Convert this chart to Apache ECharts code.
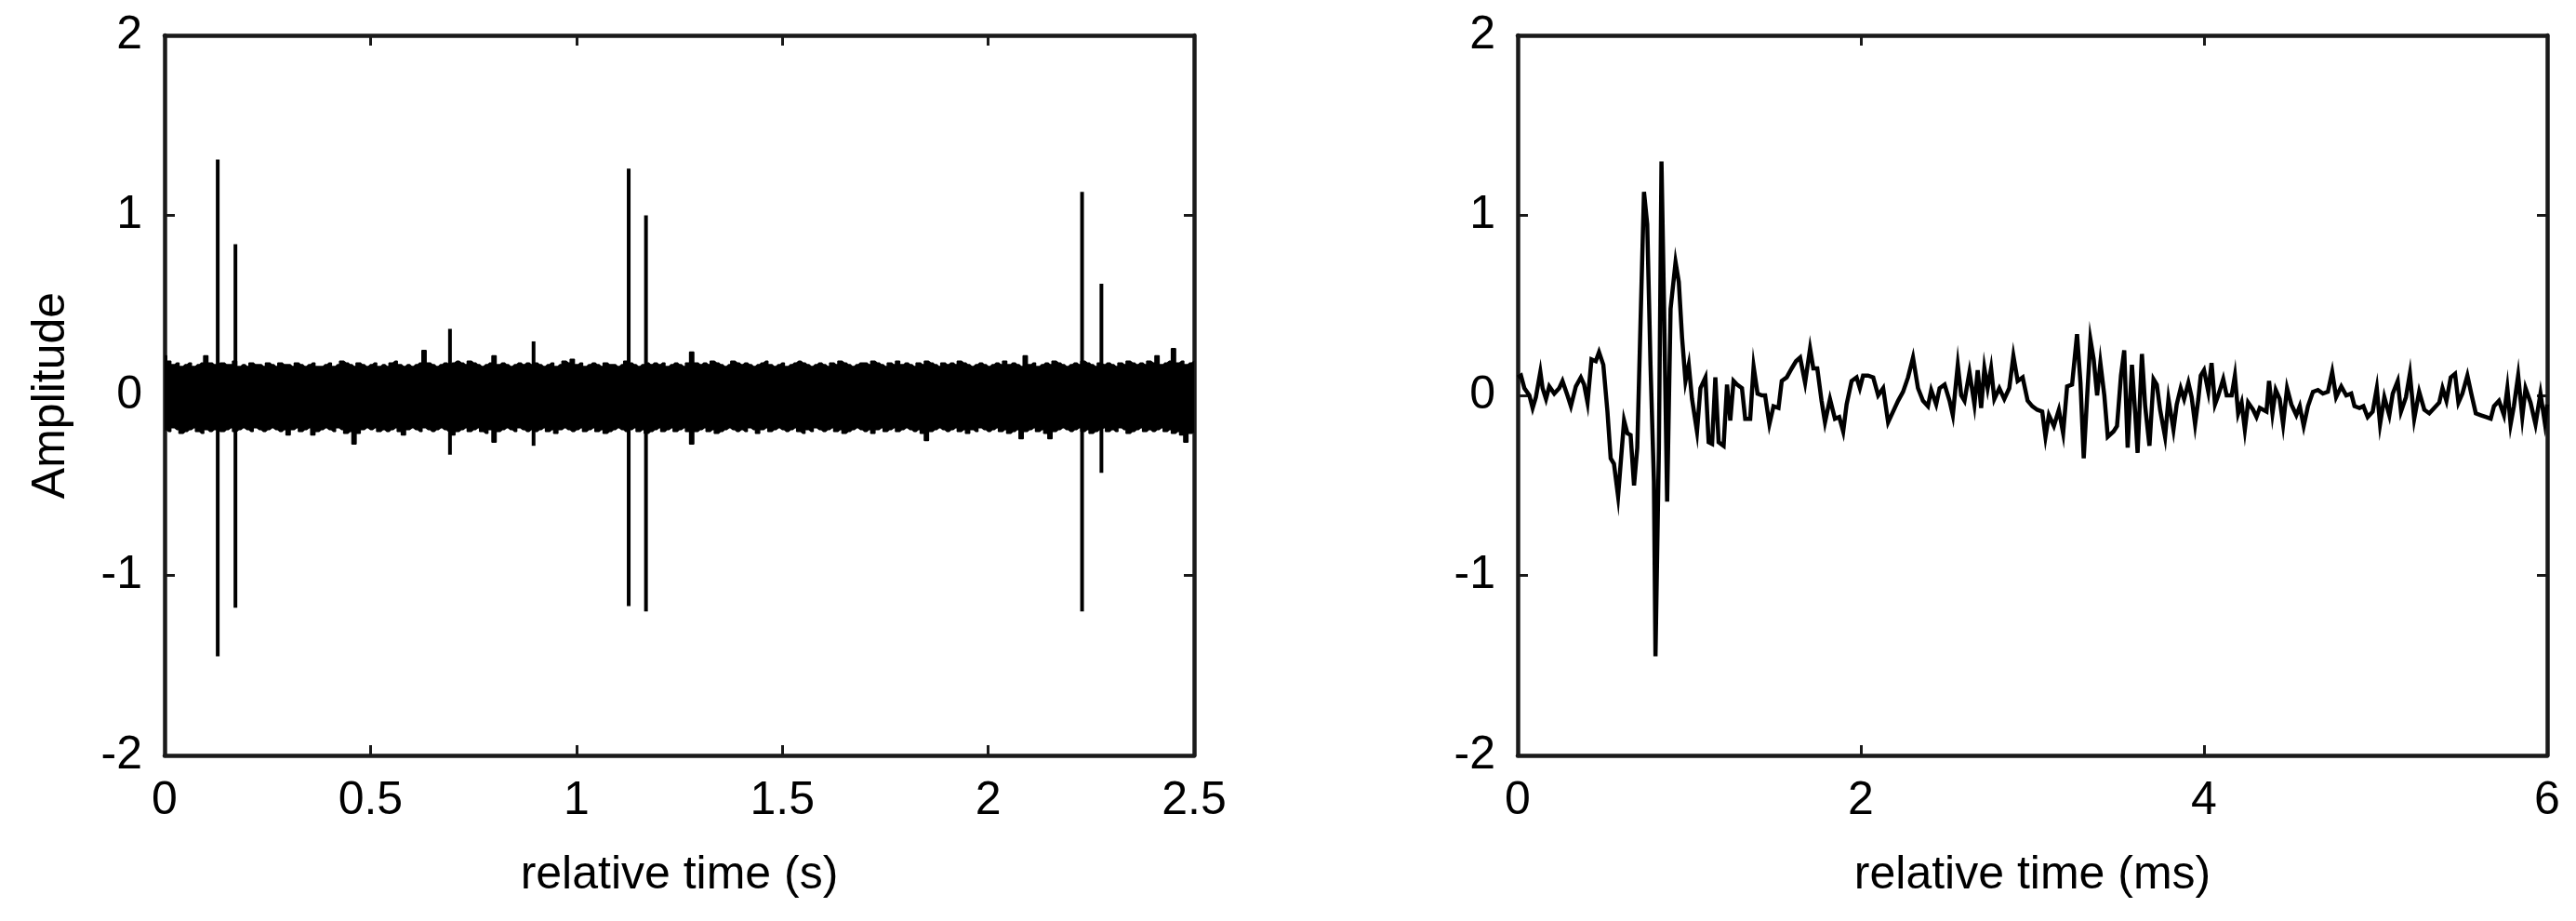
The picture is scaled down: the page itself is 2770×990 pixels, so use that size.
<!DOCTYPE html>
<html>
<head>
<meta charset="utf-8">
<script src="https://cdn.jsdelivr.net/npm/echarts@6/dist/echarts.min.js"></script>
<style>
html,body{margin:0;padding:0;background:#fff;}
#chart{width:2770px;height:990px;}
</style>
</head>
<body>
<div id="chart"></div>
<script>
// ---------- Left panel: 2.5 s recording ----------
// envelope of dense noise band, sampled every envStep seconds (0 .. 2.5)
const envStep = 0.01;
const envUpper = [
0.22,0.19,0.17,0.18,0.16,0.17,0.18,0.16,0.17,0.18,
0.22,0.18,0.17,0.16,0.18,0.17,0.17,0.19,0.16,0.17,
0.16,0.18,0.17,0.17,0.16,0.18,0.17,0.16,0.18,0.17,
0.17,0.16,0.18,0.17,0.16,0.17,0.18,0.16,0.16,0.17,
0.18,0.16,0.17,0.19,0.18,0.17,0.16,0.18,0.17,0.16,
0.17,0.18,0.16,0.17,0.16,0.18,0.19,0.17,0.16,0.17,
0.16,0.17,0.18,0.25,0.18,0.17,0.16,0.17,0.18,0.17,
0.18,0.19,0.18,0.17,0.19,0.18,0.17,0.16,0.17,0.18,
0.22,0.17,0.18,0.17,0.16,0.17,0.18,0.17,0.18,0.17,
0.18,0.17,0.16,0.17,0.18,0.16,0.17,0.19,0.18,0.20,
0.17,0.18,0.16,0.17,0.18,0.17,0.16,0.18,0.17,0.17,
0.16,0.17,0.19,0.18,0.17,0.16,0.17,0.18,0.17,0.18,
0.17,0.18,0.16,0.17,0.18,0.17,0.16,0.18,0.24,0.18,
0.17,0.18,0.17,0.19,0.18,0.17,0.16,0.17,0.19,0.18,
0.17,0.18,0.17,0.16,0.17,0.18,0.19,0.17,0.16,0.17,
0.18,0.16,0.17,0.18,0.19,0.18,0.17,0.16,0.17,0.18,
0.17,0.16,0.18,0.17,0.19,0.18,0.17,0.16,0.17,0.18,
0.18,0.17,0.19,0.18,0.17,0.16,0.18,0.17,0.19,0.17,
0.18,0.17,0.16,0.18,0.17,0.19,0.18,0.17,0.16,0.18,
0.17,0.18,0.17,0.19,0.18,0.17,0.16,0.17,0.18,0.17,
0.16,0.17,0.18,0.17,0.19,0.17,0.18,0.17,0.16,0.22,
0.17,0.18,0.16,0.17,0.18,0.17,0.19,0.18,0.17,0.16,
0.17,0.18,0.17,0.19,0.18,0.17,0.16,0.18,0.17,0.18,
0.17,0.16,0.18,0.17,0.19,0.18,0.17,0.18,0.17,0.19,
0.18,0.22,0.17,0.18,0.19,0.26,0.18,0.19,0.17,0.18,0.19
];
const envLower = [
-0.19,-0.20,-0.18,-0.19,-0.21,-0.20,-0.19,-0.18,-0.20,-0.21,
-0.19,-0.20,-0.19,-0.18,-0.20,-0.19,-0.18,-0.20,-0.19,-0.18,
-0.19,-0.20,-0.18,-0.19,-0.20,-0.19,-0.18,-0.19,-0.20,-0.19,
-0.22,-0.19,-0.18,-0.20,-0.19,-0.18,-0.22,-0.20,-0.19,-0.18,
-0.19,-0.20,-0.18,-0.19,-0.21,-0.20,-0.27,-0.21,-0.19,-0.18,
-0.19,-0.18,-0.20,-0.19,-0.20,-0.19,-0.18,-0.20,-0.22,-0.19,
-0.18,-0.19,-0.20,-0.18,-0.19,-0.20,-0.19,-0.18,-0.19,-0.20,
-0.22,-0.20,-0.19,-0.18,-0.20,-0.19,-0.18,-0.20,-0.21,-0.19,
-0.26,-0.20,-0.19,-0.18,-0.19,-0.20,-0.18,-0.19,-0.20,-0.19,
-0.20,-0.19,-0.18,-0.20,-0.19,-0.21,-0.19,-0.18,-0.19,-0.20,
-0.19,-0.18,-0.20,-0.19,-0.18,-0.20,-0.19,-0.21,-0.20,-0.19,
-0.18,-0.19,-0.20,-0.19,-0.18,-0.20,-0.19,-0.21,-0.20,-0.19,
-0.18,-0.20,-0.19,-0.18,-0.20,-0.19,-0.18,-0.20,-0.27,-0.20,
-0.19,-0.18,-0.20,-0.19,-0.21,-0.20,-0.19,-0.18,-0.19,-0.20,
-0.19,-0.20,-0.18,-0.19,-0.21,-0.19,-0.18,-0.20,-0.19,-0.18,
-0.19,-0.20,-0.19,-0.18,-0.20,-0.21,-0.19,-0.20,-0.18,-0.19,
-0.20,-0.19,-0.18,-0.20,-0.19,-0.21,-0.20,-0.19,-0.18,-0.19,
-0.20,-0.19,-0.21,-0.19,-0.18,-0.20,-0.19,-0.18,-0.20,-0.19,
-0.18,-0.19,-0.20,-0.19,-0.21,-0.25,-0.20,-0.19,-0.18,-0.19,
-0.20,-0.19,-0.18,-0.20,-0.19,-0.21,-0.19,-0.20,-0.18,-0.19,
-0.20,-0.19,-0.18,-0.20,-0.19,-0.21,-0.20,-0.19,-0.24,-0.20,
-0.19,-0.18,-0.20,-0.19,-0.21,-0.24,-0.20,-0.19,-0.18,-0.19,
-0.20,-0.19,-0.18,-0.20,-0.19,-0.21,-0.20,-0.19,-0.18,-0.20,
-0.19,-0.20,-0.18,-0.19,-0.21,-0.20,-0.19,-0.18,-0.20,-0.19,
-0.20,-0.19,-0.18,-0.20,-0.19,-0.21,-0.20,-0.22,-0.26,-0.21,-0.20
];
// isolated impulses (time s, peak, trough)
const spikeTime   = [0.129, 0.172, 0.693, 0.896, 1.127, 1.169, 2.228, 2.275];
const spikeTop    = [1.31,  0.84,  0.37,  0.30,  1.26,  1.00,  1.13,  0.62];
const spikeBottom = [-1.45, -1.18, -0.33, -0.28, -1.17, -1.20, -1.20, -0.43];

// ---------- Right panel: 6 ms zoom on one impulse ----------
const rightTime = [
0.000,0.019,0.039,0.068,0.087,0.106,0.132,0.145,0.165,0.184,
0.213,0.242,0.261,0.290,0.310,0.339,0.368,0.387,0.407,0.430,
0.455,0.474,0.499,0.523,0.542,0.561,0.585,0.620,0.639,0.658,
0.678,0.697,0.716,0.736,0.755,0.774,0.794,0.803,0.823,0.838,
0.852,0.871,0.891,0.920,0.939,0.958,0.978,0.997,1.016,1.045,
1.065,1.094,1.113,1.133,1.152,1.171,1.200,1.220,1.239,1.258,
1.278,1.307,1.326,1.355,1.375,1.398,1.423,1.442,1.467,1.491,
1.520,1.539,1.568,1.597,1.622,1.646,1.675,1.704,1.723,1.746,
1.771,1.791,1.820,1.849,1.874,1.897,1.917,1.946,1.975,1.994,
2.013,2.042,2.072,2.101,2.130,2.159,2.188,2.217,2.246,2.275,
2.304,2.333,2.362,2.391,2.410,2.439,2.459,2.488,2.517,2.536,
2.565,2.585,2.604,2.633,2.662,2.681,2.701,2.720,2.739,2.759,
2.778,2.807,2.836,2.865,2.889,2.914,2.943,2.972,
2.999,3.028,3.057,3.076,3.096,3.125,3.154,3.179,3.202,3.231,
3.260,3.280,3.299,3.318,3.338,3.357,3.377,3.396,3.419,3.439,
3.473,3.493,3.516,3.535,3.555,3.580,3.599,3.613,3.638,3.657,
3.682,3.706,3.725,3.744,3.773,3.793,3.822,3.841,3.864,3.884,
3.909,3.928,3.948,3.967,3.981,4.000,4.025,4.044,4.064,4.083,
4.112,4.132,4.161,4.180,4.199,4.219,4.238,4.257,4.286,4.306,
4.325,4.345,4.364,4.379,4.399,4.418,4.441,4.461,4.484,4.509,
4.538,4.558,4.581,4.606,4.635,4.664,4.693,4.722,4.747,4.770,
4.800,4.829,4.858,4.877,4.906,4.929,4.954,4.983,5.007,5.026,
5.051,5.080,5.100,5.129,5.148,5.177,5.200,5.225,5.254,5.284,
5.313,5.342,5.371,5.390,5.413,5.438,5.463,5.483,5.506,5.535,
5.560,5.584,5.613,5.642,5.671,5.690,5.719,5.748,5.768,5.787,
5.806,5.831,5.855,5.874,5.903,5.932,5.961,5.986,6.000
];
const rightAmp = [
0.10,0.11,0.04,0.00,-0.07,-0.01,0.13,0.04,-0.02,0.05,
0.01,0.04,0.08,0.00,-0.06,0.05,0.10,0.06,-0.04,0.20,
0.19,0.24,0.17,-0.09,-0.35,-0.38,-0.56,-0.14,-0.21,-0.22,
-0.50,-0.29,0.41,1.13,0.95,0.17,-0.48,-1.45,-0.29,1.30,
0.54,-0.59,0.48,0.74,0.63,0.32,0.08,0.17,-0.02,-0.20,
0.04,0.10,-0.26,-0.27,0.10,-0.26,-0.28,0.06,-0.14,0.08,
0.06,0.04,-0.13,-0.13,0.16,0.01,0.00,0.00,-0.16,-0.06,
-0.07,0.08,0.10,0.15,0.19,0.21,0.07,0.26,0.15,0.15,
-0.03,-0.15,-0.02,-0.13,-0.12,-0.20,-0.05,0.08,0.10,0.04,
0.11,0.11,0.10,0.00,0.04,-0.15,-0.09,-0.03,0.02,0.10,
0.21,0.04,-0.03,-0.06,0.03,-0.05,0.04,0.06,-0.03,-0.11,
0.17,0.00,-0.03,0.13,-0.05,0.14,-0.07,0.15,0.04,0.15,
-0.02,0.04,-0.02,0.04,0.22,0.08,0.10,-0.03,
-0.06,-0.08,-0.09,-0.23,-0.11,-0.17,-0.08,-0.21,0.05,0.06,
0.34,0.07,-0.35,-0.02,0.31,0.20,0.00,0.18,0.00,-0.23,
-0.20,-0.17,0.11,0.25,-0.29,0.17,-0.10,-0.32,0.23,-0.06,
-0.28,0.09,0.06,-0.08,-0.23,-0.02,-0.19,-0.05,0.04,-0.02,
0.07,-0.01,-0.16,-0.02,0.11,0.14,0.02,0.18,-0.05,0.00,
0.09,0.00,0.00,0.11,-0.10,-0.04,-0.19,-0.04,-0.08,-0.12,
-0.07,-0.08,-0.09,0.08,-0.10,0.03,-0.02,-0.16,0.04,-0.05,
-0.11,-0.06,-0.17,-0.06,0.02,0.03,0.01,0.02,0.13,-0.01,
0.05,0.00,0.01,-0.06,-0.07,-0.06,-0.12,-0.09,0.04,-0.16,
-0.01,-0.11,0.01,0.08,-0.09,-0.01,0.12,-0.13,0.02,-0.08,
-0.10,-0.07,-0.04,0.04,-0.03,0.10,0.12,-0.04,0.01,0.11,
0.00,-0.10,-0.11,-0.12,-0.13,-0.06,-0.03,-0.11,0.04,-0.16,
-0.06,0.11,-0.12,0.04,-0.04,-0.16,0.01,-0.15,-0.05
];

// axis ticks / labels
const leftXTicks = {min: 0, max: 2.5, interval: 0.5};
const rightXTicks = {min: 0, max: 6, interval: 2};
const yTicks = {min: -2, max: 2, interval: 1};
const leftXName = 'relative time (s)';
const rightXName = 'relative time (ms)';
const yName = 'Amplitude';

// ---------- build chart ----------
const FONT = '"Liberation Sans", Arial, Helvetica, sans-serif';
const AX = '#1a1a1a';
const LABEL_SIZE = 50;

function xAx(grid, ticks, name, pos) {
  const main = pos === 'bottom';
  return {
    type: 'value', gridIndex: grid, position: pos,
    min: ticks.min, max: ticks.max, interval: ticks.interval,
    axisLine: {show: true, onZero: false, lineStyle: {color: AX, width: 4.5}},
    axisTick: {show: true, inside: true, length: 11, lineStyle: {color: AX, width: 3}},
    axisLabel: {show: main, color: '#000', fontSize: LABEL_SIZE, fontFamily: FONT, margin: 24},
    splitLine: {show: false},
    name: main ? name : '', nameLocation: 'middle', nameGap: 104,
    nameTextStyle: {color: '#000', fontSize: LABEL_SIZE, fontFamily: FONT}
  };
}
function yAx(grid, name, pos, showLabel) {
  return {
    type: 'value', gridIndex: grid, position: pos,
    min: yTicks.min, max: yTicks.max, interval: yTicks.interval,
    axisLine: {show: true, onZero: false, lineStyle: {color: AX, width: 4.5}},
    axisTick: {show: true, inside: true, length: 11, lineStyle: {color: AX, width: 3}},
    axisLabel: {show: showLabel, color: '#000', fontSize: LABEL_SIZE, fontFamily: FONT, margin: 24},
    splitLine: {show: false},
    name: name, nameLocation: 'middle', nameGap: 97, nameRotate: 90,
    nameTextStyle: {color: '#000', fontSize: LABEL_SIZE, fontFamily: FONT}
  };
}

const series = [];
series.push({
  type: 'line', xAxisIndex: 0, yAxisIndex: 0, symbol: 'none', silent: true, step: 'middle',
  data: envUpper.map((v, i) => [i * envStep, v]),
  lineStyle: {color: '#000', width: 1.5}, areaStyle: {color: '#000', opacity: 1}
});
series.push({
  type: 'line', xAxisIndex: 0, yAxisIndex: 0, symbol: 'none', silent: true, step: 'middle',
  data: envLower.map((v, i) => [i * envStep, v]),
  lineStyle: {color: '#000', width: 1.5}, areaStyle: {color: '#000', opacity: 1}
});
spikeTime.forEach((t, i) => {
  series.push({
    type: 'line', xAxisIndex: 0, yAxisIndex: 0, symbol: 'none', silent: true,
    data: [[t, spikeBottom[i]], [t, spikeTop[i]]],
    lineStyle: {color: '#000', width: 4}
  });
});
series.push({
  type: 'line', xAxisIndex: 2, yAxisIndex: 2, symbol: 'none', silent: true,
  data: rightTime.map((t, i) => [t, rightAmp[i]]),
  lineStyle: {color: '#000', width: 4.5, join: 'miter'}
});

const chart = echarts.init(document.getElementById('chart'), null, {renderer: 'canvas'});
chart.setOption({
  animation: false,
  backgroundColor: '#fff',
  grid: [
    {left: 177, top: 38, width: 1107, height: 774, containLabel: false},
    {left: 1632, top: 38, width: 1107, height: 774, containLabel: false}
  ],
  xAxis: [
    xAx(0, leftXTicks, leftXName, 'bottom'),
    xAx(0, leftXTicks, '', 'top'),
    xAx(1, rightXTicks, rightXName, 'bottom'),
    xAx(1, rightXTicks, '', 'top')
  ],
  yAxis: [
    yAx(0, yName, 'left', true),
    yAx(0, '', 'right', false),
    yAx(1, '', 'left', true),
    yAx(1, '', 'right', false)
  ],
  series: series
});
</script>
</body>
</html>
